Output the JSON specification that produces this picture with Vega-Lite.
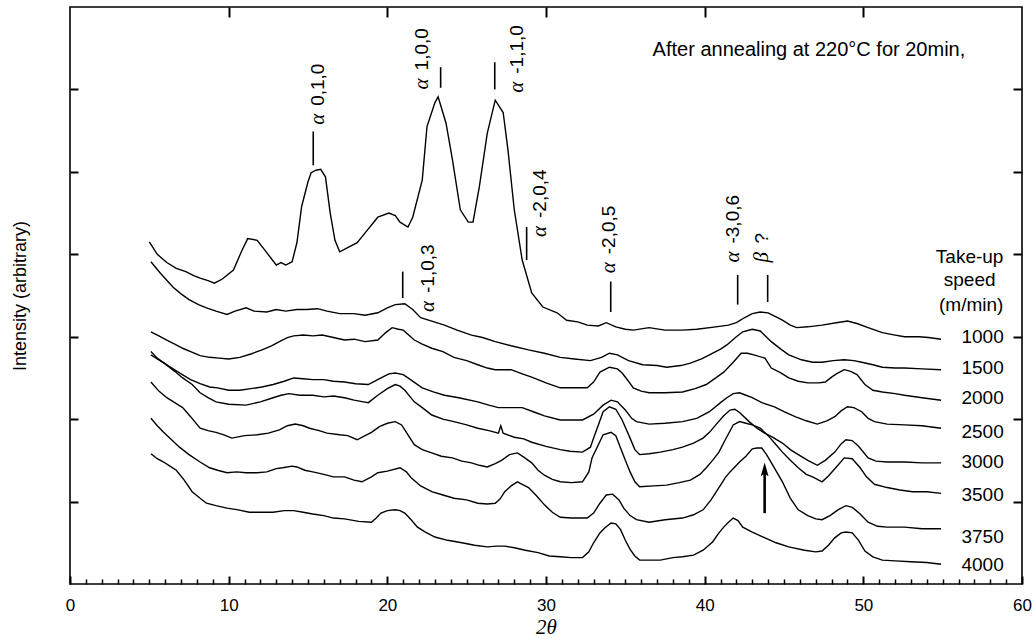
{
  "$schema": "https://vega.github.io/schema/vega-lite/v6.json",
  "width": 952,
  "height": 577,
  "autosize": {"type": "none"},
  "padding": {"left": 70, "top": 7, "right": 14, "bottom": 55},
  "config": {
    "view": {"stroke": "black", "strokeWidth": 1.6},
    "font": "Liberation Sans",
    "axis": {"domain": false, "grid": false, "tickColor": "black", "labelColor": "black", "titleColor": "black"}
  },
  "datasets": {
    "curves": [
      {"s":"1000","t":5.0,"i":4.15},{"s":"1000","t":5.5,"i":4.00},{"s":"1000","t":6.1,"i":3.90},{"s":"1000","t":6.7,"i":3.83},{"s":"1000","t":7.3,"i":3.79},{"s":"1000","t":7.8,"i":3.74},{"s":"1000","t":8.2,"i":3.71},{"s":"1000","t":8.7,"i":3.68},{"s":"1000","t":9.1,"i":3.65},{"s":"1000","t":9.6,"i":3.70},{"s":"1000","t":10.3,"i":3.81},{"s":"1000","t":10.8,"i":4.03},{"s":"1000","t":11.2,"i":4.19},{"s":"1000","t":11.8,"i":4.17},{"s":"1000","t":12.4,"i":4.02},{"s":"1000","t":13.0,"i":3.87},{"s":"1000","t":13.3,"i":3.90},{"s":"1000","t":13.6,"i":3.87},{"s":"1000","t":14.0,"i":3.91},{"s":"1000","t":14.3,"i":4.14},{"s":"1000","t":14.6,"i":4.58},{"s":"1000","t":15.0,"i":4.88},{"s":"1000","t":15.2,"i":4.99},{"s":"1000","t":15.5,"i":5.02},{"s":"1000","t":15.8,"i":5.03},{"s":"1000","t":16.1,"i":4.94},{"s":"1000","t":16.4,"i":4.50},{"s":"1000","t":16.7,"i":4.17},{"s":"1000","t":17.0,"i":4.03},{"s":"1000","t":17.5,"i":4.08},{"s":"1000","t":18.1,"i":4.14},{"s":"1000","t":18.6,"i":4.26},{"s":"1000","t":19.4,"i":4.45},{"s":"1000","t":20.1,"i":4.50},{"s":"1000","t":20.5,"i":4.47},{"s":"1000","t":20.8,"i":4.39},{"s":"1000","t":21.3,"i":4.33},{"s":"1000","t":21.6,"i":4.45},{"s":"1000","t":22.2,"i":4.90},{"s":"1000","t":22.5,"i":5.55},{"s":"1000","t":23.0,"i":5.84},{"s":"1000","t":23.2,"i":5.91},{"s":"1000","t":23.7,"i":5.59},{"s":"1000","t":24.1,"i":5.15},{"s":"1000","t":24.6,"i":4.54},{"s":"1000","t":25.1,"i":4.39},{"s":"1000","t":25.4,"i":4.39},{"s":"1000","t":25.8,"i":4.82},{"s":"1000","t":26.3,"i":5.47},{"s":"1000","t":26.8,"i":5.87},{"s":"1000","t":27.3,"i":5.72},{"s":"1000","t":27.6,"i":5.27},{"s":"1000","t":28.0,"i":4.54},{"s":"1000","t":28.5,"i":3.93},{"s":"1000","t":29.1,"i":3.53},{"s":"1000","t":29.8,"i":3.36},{"s":"1000","t":30.7,"i":3.29},{"s":"1000","t":31.3,"i":3.20},{"s":"1000","t":32.0,"i":3.18},{"s":"1000","t":32.6,"i":3.14},{"s":"1000","t":33.3,"i":3.13},{"s":"1000","t":33.8,"i":3.17},{"s":"1000","t":34.4,"i":3.12},{"s":"1000","t":35.0,"i":3.09},{"s":"1000","t":35.5,"i":3.08},{"s":"1000","t":36.5,"i":3.11},{"s":"1000","t":37.5,"i":3.08},{"s":"1000","t":38.6,"i":3.08},{"s":"1000","t":39.5,"i":3.09},{"s":"1000","t":40.7,"i":3.12},{"s":"1000","t":41.5,"i":3.14},{"s":"1000","t":42.0,"i":3.17},{"s":"1000","t":42.5,"i":3.23},{"s":"1000","t":43.0,"i":3.28},{"s":"1000","t":43.5,"i":3.30},{"s":"1000","t":44.0,"i":3.29},{"s":"1000","t":44.5,"i":3.24},{"s":"1000","t":44.9,"i":3.20},{"s":"1000","t":45.4,"i":3.14},{"s":"1000","t":45.8,"i":3.11},{"s":"1000","t":46.5,"i":3.12},{"s":"1000","t":47.4,"i":3.14},{"s":"1000","t":48.3,"i":3.17},{"s":"1000","t":49.0,"i":3.19},{"s":"1000","t":49.6,"i":3.16},{"s":"1000","t":50.3,"i":3.11},{"s":"1000","t":51.2,"i":3.05},{"s":"1000","t":52.0,"i":3.02},{"s":"1000","t":52.6,"i":3.00},{"s":"1000","t":53.5,"i":3.00},{"s":"1000","t":54.1,"i":2.99},{"s":"1000","t":54.9,"i":2.97},

      {"s":"1500","t":5.1,"i":3.91},{"s":"1500","t":5.7,"i":3.77},{"s":"1500","t":6.5,"i":3.60},{"s":"1500","t":7.0,"i":3.52},{"s":"1500","t":7.5,"i":3.45},{"s":"1500","t":8.1,"i":3.39},{"s":"1500","t":8.6,"i":3.35},{"s":"1500","t":9.2,"i":3.31},{"s":"1500","t":9.9,"i":3.27},{"s":"1500","t":10.4,"i":3.31},{"s":"1500","t":11.1,"i":3.35},{"s":"1500","t":11.6,"i":3.31},{"s":"1500","t":12.4,"i":3.30},{"s":"1500","t":13.0,"i":3.33},{"s":"1500","t":13.6,"i":3.31},{"s":"1500","t":14.3,"i":3.33},{"s":"1500","t":14.9,"i":3.33},{"s":"1500","t":15.6,"i":3.34},{"s":"1500","t":16.2,"i":3.31},{"s":"1500","t":17.0,"i":3.28},{"s":"1500","t":17.9,"i":3.28},{"s":"1500","t":18.6,"i":3.26},{"s":"1500","t":19.4,"i":3.29},{"s":"1500","t":20.0,"i":3.35},{"s":"1500","t":20.5,"i":3.39},{"s":"1500","t":21.1,"i":3.40},{"s":"1500","t":21.6,"i":3.33},{"s":"1500","t":22.1,"i":3.23},{"s":"1500","t":22.8,"i":3.19},{"s":"1500","t":23.6,"i":3.14},{"s":"1500","t":24.4,"i":3.08},{"s":"1500","t":25.3,"i":3.02},{"s":"1500","t":26.0,"i":2.99},{"s":"1500","t":26.8,"i":2.94},{"s":"1500","t":27.8,"i":2.89},{"s":"1500","t":28.9,"i":2.84},{"s":"1500","t":29.9,"i":2.80},{"s":"1500","t":30.9,"i":2.75},{"s":"1500","t":31.8,"i":2.73},{"s":"1500","t":32.8,"i":2.71},{"s":"1500","t":33.5,"i":2.75},{"s":"1500","t":34.0,"i":2.80},{"s":"1500","t":34.5,"i":2.78},{"s":"1500","t":35.2,"i":2.71},{"s":"1500","t":36.1,"i":2.66},{"s":"1500","t":37.0,"i":2.65},{"s":"1500","t":37.6,"i":2.63},{"s":"1500","t":38.5,"i":2.65},{"s":"1500","t":39.1,"i":2.68},{"s":"1500","t":39.8,"i":2.73},{"s":"1500","t":40.3,"i":2.78},{"s":"1500","t":41.0,"i":2.85},{"s":"1500","t":41.4,"i":2.90},{"s":"1500","t":42.0,"i":3.00},{"s":"1500","t":42.4,"i":3.06},{"s":"1500","t":43.0,"i":3.09},{"s":"1500","t":43.5,"i":3.07},{"s":"1500","t":44.2,"i":2.94},{"s":"1500","t":44.8,"i":2.85},{"s":"1500","t":45.3,"i":2.78},{"s":"1500","t":46.1,"i":2.72},{"s":"1500","t":46.8,"i":2.69},{"s":"1500","t":47.4,"i":2.69},{"s":"1500","t":48.1,"i":2.71},{"s":"1500","t":48.8,"i":2.72},{"s":"1500","t":49.4,"i":2.71},{"s":"1500","t":49.9,"i":2.69},{"s":"1500","t":50.6,"i":2.66},{"s":"1500","t":51.2,"i":2.63},{"s":"1500","t":52.0,"i":2.62},{"s":"1500","t":52.6,"i":2.62},{"s":"1500","t":53.7,"i":2.61},{"s":"1500","t":54.9,"i":2.60},

      {"s":"2000","t":5.1,"i":3.06},{"s":"2000","t":5.6,"i":3.01},{"s":"2000","t":6.1,"i":2.96},{"s":"2000","t":6.6,"i":2.91},{"s":"2000","t":7.1,"i":2.86},{"s":"2000","t":7.6,"i":2.82},{"s":"2000","t":8.2,"i":2.77},{"s":"2000","t":8.8,"i":2.75},{"s":"2000","t":9.4,"i":2.74},{"s":"2000","t":10.0,"i":2.73},{"s":"2000","t":10.7,"i":2.75},{"s":"2000","t":11.4,"i":2.79},{"s":"2000","t":12.1,"i":2.84},{"s":"2000","t":12.7,"i":2.89},{"s":"2000","t":13.2,"i":2.94},{"s":"2000","t":13.7,"i":2.99},{"s":"2000","t":14.1,"i":3.01},{"s":"2000","t":14.7,"i":3.02},{"s":"2000","t":15.3,"i":3.01},{"s":"2000","t":15.9,"i":3.02},{"s":"2000","t":16.6,"i":2.99},{"s":"2000","t":17.3,"i":2.96},{"s":"2000","t":17.9,"i":2.97},{"s":"2000","t":18.6,"i":2.94},{"s":"2000","t":19.4,"i":2.96},{"s":"2000","t":19.9,"i":3.05},{"s":"2000","t":20.3,"i":3.11},{"s":"2000","t":20.7,"i":3.09},{"s":"2000","t":21.0,"i":3.08},{"s":"2000","t":21.7,"i":2.96},{"s":"2000","t":22.2,"i":2.91},{"s":"2000","t":22.8,"i":2.86},{"s":"2000","t":23.5,"i":2.82},{"s":"2000","t":24.2,"i":2.75},{"s":"2000","t":25.0,"i":2.71},{"s":"2000","t":25.7,"i":2.66},{"s":"2000","t":26.3,"i":2.62},{"s":"2000","t":26.8,"i":2.60},{"s":"2000","t":27.8,"i":2.60},{"s":"2000","t":28.5,"i":2.55},{"s":"2000","t":29.1,"i":2.51},{"s":"2000","t":30.0,"i":2.44},{"s":"2000","t":30.9,"i":2.38},{"s":"2000","t":31.5,"i":2.38},{"s":"2000","t":32.6,"i":2.38},{"s":"2000","t":33.0,"i":2.45},{"s":"2000","t":33.4,"i":2.57},{"s":"2000","t":34.0,"i":2.63},{"s":"2000","t":34.5,"i":2.61},{"s":"2000","t":34.8,"i":2.56},{"s":"2000","t":35.2,"i":2.46},{"s":"2000","t":35.5,"i":2.38},{"s":"2000","t":36.0,"i":2.34},{"s":"2000","t":36.5,"i":2.32},{"s":"2000","t":37.5,"i":2.32},{"s":"2000","t":38.6,"i":2.33},{"s":"2000","t":39.4,"i":2.37},{"s":"2000","t":40.1,"i":2.42},{"s":"2000","t":40.7,"i":2.50},{"s":"2000","t":41.2,"i":2.57},{"s":"2000","t":41.8,"i":2.69},{"s":"2000","t":42.3,"i":2.80},{"s":"2000","t":42.7,"i":2.80},{"s":"2000","t":43.1,"i":2.78},{"s":"2000","t":43.8,"i":2.74},{"s":"2000","t":44.2,"i":2.62},{"s":"2000","t":44.8,"i":2.56},{"s":"2000","t":45.3,"i":2.50},{"s":"2000","t":45.9,"i":2.46},{"s":"2000","t":46.5,"i":2.44},{"s":"2000","t":47.2,"i":2.44},{"s":"2000","t":47.6,"i":2.45},{"s":"2000","t":48.0,"i":2.51},{"s":"2000","t":48.3,"i":2.55},{"s":"2000","t":48.8,"i":2.60},{"s":"2000","t":49.2,"i":2.58},{"s":"2000","t":49.6,"i":2.54},{"s":"2000","t":50.1,"i":2.42},{"s":"2000","t":50.6,"i":2.35},{"s":"2000","t":51.2,"i":2.33},{"s":"2000","t":52.0,"i":2.31},{"s":"2000","t":52.6,"i":2.29},{"s":"2000","t":53.7,"i":2.26},{"s":"2000","t":54.9,"i":2.23},

      {"s":"2500","t":5.1,"i":2.78},{"s":"2500","t":5.5,"i":2.73},{"s":"2500","t":6.0,"i":2.67},{"s":"2500","t":6.5,"i":2.61},{"s":"2500","t":7.0,"i":2.55},{"s":"2500","t":7.6,"i":2.48},{"s":"2500","t":8.2,"i":2.43},{"s":"2500","t":8.8,"i":2.39},{"s":"2500","t":9.3,"i":2.38},{"s":"2500","t":10.0,"i":2.35},{"s":"2500","t":10.7,"i":2.35},{"s":"2500","t":11.4,"i":2.37},{"s":"2500","t":12.1,"i":2.39},{"s":"2500","t":12.8,"i":2.42},{"s":"2500","t":13.5,"i":2.46},{"s":"2500","t":14.1,"i":2.50},{"s":"2500","t":14.7,"i":2.49},{"s":"2500","t":15.3,"i":2.48},{"s":"2500","t":16.0,"i":2.48},{"s":"2500","t":16.6,"i":2.46},{"s":"2500","t":17.3,"i":2.45},{"s":"2500","t":18.0,"i":2.43},{"s":"2500","t":18.8,"i":2.42},{"s":"2500","t":19.6,"i":2.50},{"s":"2500","t":20.1,"i":2.55},{"s":"2500","t":20.5,"i":2.56},{"s":"2500","t":21.0,"i":2.54},{"s":"2500","t":21.3,"i":2.50},{"s":"2500","t":22.2,"i":2.38},{"s":"2500","t":22.9,"i":2.33},{"s":"2500","t":23.6,"i":2.29},{"s":"2500","t":24.5,"i":2.26},{"s":"2500","t":25.7,"i":2.21},{"s":"2500","t":26.4,"i":2.17},{"s":"2500","t":27.0,"i":2.14},{"s":"2500","t":27.8,"i":2.14},{"s":"2500","t":28.5,"i":2.14},{"s":"2500","t":29.2,"i":2.09},{"s":"2500","t":29.9,"i":2.04},{"s":"2500","t":30.9,"i":1.99},{"s":"2500","t":31.5,"i":1.99},{"s":"2500","t":32.3,"i":1.99},{"s":"2500","t":33.0,"i":2.06},{"s":"2500","t":33.6,"i":2.17},{"s":"2500","t":34.1,"i":2.23},{"s":"2500","t":34.5,"i":2.21},{"s":"2500","t":35.0,"i":2.11},{"s":"2500","t":35.4,"i":2.01},{"s":"2500","t":35.7,"i":1.97},{"s":"2500","t":36.5,"i":1.94},{"s":"2500","t":37.5,"i":1.95},{"s":"2500","t":38.6,"i":1.97},{"s":"2500","t":39.5,"i":2.01},{"s":"2500","t":40.3,"i":2.09},{"s":"2500","t":41.0,"i":2.20},{"s":"2500","t":41.4,"i":2.26},{"s":"2500","t":41.8,"i":2.31},{"s":"2500","t":42.2,"i":2.32},{"s":"2500","t":42.6,"i":2.29},{"s":"2500","t":43.0,"i":2.26},{"s":"2500","t":43.6,"i":2.20},{"s":"2500","t":44.4,"i":2.15},{"s":"2500","t":45.0,"i":2.09},{"s":"2500","t":45.7,"i":2.03},{"s":"2500","t":46.4,"i":1.98},{"s":"2500","t":47.1,"i":1.94},{"s":"2500","t":47.7,"i":1.98},{"s":"2500","t":48.2,"i":2.03},{"s":"2500","t":48.6,"i":2.10},{"s":"2500","t":49.0,"i":2.15},{"s":"2500","t":49.4,"i":2.14},{"s":"2500","t":49.9,"i":2.09},{"s":"2500","t":50.3,"i":2.01},{"s":"2500","t":50.7,"i":1.97},{"s":"2500","t":51.5,"i":1.94},{"s":"2500","t":52.6,"i":1.93},{"s":"2500","t":53.7,"i":1.92},{"s":"2500","t":54.9,"i":1.89},

      {"s":"3000","t":5.1,"i":2.82},{"s":"3000","t":5.5,"i":2.74},{"s":"3000","t":6.0,"i":2.67},{"s":"3000","t":6.6,"i":2.58},{"s":"3000","t":7.1,"i":2.50},{"s":"3000","t":7.7,"i":2.42},{"s":"3000","t":8.2,"i":2.32},{"s":"3000","t":8.7,"i":2.26},{"s":"3000","t":9.2,"i":2.21},{"s":"3000","t":10.0,"i":2.18},{"s":"3000","t":11.1,"i":2.17},{"s":"3000","t":12.0,"i":2.21},{"s":"3000","t":12.8,"i":2.26},{"s":"3000","t":13.3,"i":2.29},{"s":"3000","t":13.8,"i":2.31},{"s":"3000","t":14.5,"i":2.29},{"s":"3000","t":15.3,"i":2.29},{"s":"3000","t":16.0,"i":2.27},{"s":"3000","t":16.6,"i":2.28},{"s":"3000","t":17.3,"i":2.26},{"s":"3000","t":17.9,"i":2.23},{"s":"3000","t":18.5,"i":2.21},{"s":"3000","t":18.8,"i":2.20},{"s":"3000","t":19.4,"i":2.29},{"s":"3000","t":20.0,"i":2.37},{"s":"3000","t":20.5,"i":2.42},{"s":"3000","t":20.8,"i":2.40},{"s":"3000","t":21.1,"i":2.35},{"s":"3000","t":21.7,"i":2.21},{"s":"3000","t":22.2,"i":2.14},{"s":"3000","t":22.8,"i":2.05},{"s":"3000","t":23.5,"i":2.00},{"s":"3000","t":24.2,"i":1.97},{"s":"3000","t":25.0,"i":1.93},{"s":"3000","t":25.7,"i":1.89},{"s":"3000","t":26.4,"i":1.86},{"s":"3000","t":27.0,"i":1.83},{"s":"3000","t":27.15,"i":1.92},{"s":"3000","t":27.3,"i":1.83},{"s":"3000","t":28.0,"i":1.78},{"s":"3000","t":28.6,"i":1.76},{"s":"3000","t":29.1,"i":1.72},{"s":"3000","t":30.0,"i":1.67},{"s":"3000","t":30.9,"i":1.63},{"s":"3000","t":31.5,"i":1.61},{"s":"3000","t":32.3,"i":1.60},{"s":"3000","t":32.8,"i":1.66},{"s":"3000","t":33.0,"i":1.77},{"s":"3000","t":33.3,"i":1.93},{"s":"3000","t":33.6,"i":2.09},{"s":"3000","t":34.0,"i":2.15},{"s":"3000","t":34.4,"i":2.12},{"s":"3000","t":34.8,"i":1.99},{"s":"3000","t":35.3,"i":1.77},{"s":"3000","t":35.6,"i":1.63},{"s":"3000","t":35.9,"i":1.57},{"s":"3000","t":36.5,"i":1.58},{"s":"3000","t":37.2,"i":1.60},{"s":"3000","t":38.0,"i":1.63},{"s":"3000","t":38.6,"i":1.66},{"s":"3000","t":39.3,"i":1.71},{"s":"3000","t":39.9,"i":1.77},{"s":"3000","t":40.3,"i":1.84},{"s":"3000","t":40.7,"i":1.93},{"s":"3000","t":41.2,"i":2.04},{"s":"3000","t":41.6,"i":2.11},{"s":"3000","t":41.9,"i":2.12},{"s":"3000","t":42.2,"i":2.08},{"s":"3000","t":42.8,"i":1.97},{"s":"3000","t":43.3,"i":1.89},{"s":"3000","t":43.7,"i":1.84},{"s":"3000","t":44.3,"i":1.78},{"s":"3000","t":44.9,"i":1.71},{"s":"3000","t":45.4,"i":1.63},{"s":"3000","t":45.9,"i":1.57},{"s":"3000","t":46.5,"i":1.50},{"s":"3000","t":47.1,"i":1.44},{"s":"3000","t":47.6,"i":1.50},{"s":"3000","t":48.2,"i":1.60},{"s":"3000","t":48.6,"i":1.70},{"s":"3000","t":48.9,"i":1.75},{"s":"3000","t":49.3,"i":1.74},{"s":"3000","t":49.7,"i":1.67},{"s":"3000","t":50.3,"i":1.53},{"s":"3000","t":50.8,"i":1.49},{"s":"3000","t":51.5,"i":1.48},{"s":"3000","t":52.6,"i":1.48},{"s":"3000","t":53.7,"i":1.47},{"s":"3000","t":54.9,"i":1.47},

      {"s":"3500","t":5.1,"i":2.45},{"s":"3500","t":5.6,"i":2.34},{"s":"3500","t":6.1,"i":2.26},{"s":"3500","t":6.6,"i":2.20},{"s":"3500","t":7.1,"i":2.14},{"s":"3500","t":7.6,"i":2.03},{"s":"3500","t":8.2,"i":1.89},{"s":"3500","t":8.7,"i":1.86},{"s":"3500","t":9.2,"i":1.84},{"s":"3500","t":9.7,"i":1.81},{"s":"3500","t":10.2,"i":1.77},{"s":"3500","t":11.0,"i":1.80},{"s":"3500","t":11.8,"i":1.81},{"s":"3500","t":12.5,"i":1.83},{"s":"3500","t":13.2,"i":1.87},{"s":"3500","t":13.7,"i":1.92},{"s":"3500","t":14.2,"i":1.94},{"s":"3500","t":14.7,"i":1.92},{"s":"3500","t":15.1,"i":1.89},{"s":"3500","t":15.7,"i":1.86},{"s":"3500","t":16.2,"i":1.83},{"s":"3500","t":17.0,"i":1.81},{"s":"3500","t":17.5,"i":1.80},{"s":"3500","t":18.1,"i":1.75},{"s":"3500","t":18.6,"i":1.80},{"s":"3500","t":19.0,"i":1.84},{"s":"3500","t":19.5,"i":1.91},{"s":"3500","t":20.0,"i":1.95},{"s":"3500","t":20.5,"i":1.97},{"s":"3500","t":20.9,"i":1.93},{"s":"3500","t":21.2,"i":1.84},{"s":"3500","t":21.7,"i":1.69},{"s":"3500","t":22.2,"i":1.63},{"s":"3500","t":22.8,"i":1.59},{"s":"3500","t":23.4,"i":1.55},{"s":"3500","t":24.1,"i":1.53},{"s":"3500","t":24.7,"i":1.49},{"s":"3500","t":25.3,"i":1.47},{"s":"3500","t":25.8,"i":1.44},{"s":"3500","t":26.3,"i":1.42},{"s":"3500","t":26.8,"i":1.46},{"s":"3500","t":27.2,"i":1.50},{"s":"3500","t":27.7,"i":1.57},{"s":"3500","t":28.2,"i":1.59},{"s":"3500","t":28.6,"i":1.54},{"s":"3500","t":29.1,"i":1.47},{"s":"3500","t":29.5,"i":1.38},{"s":"3500","t":29.9,"i":1.32},{"s":"3500","t":30.4,"i":1.27},{"s":"3500","t":30.9,"i":1.24},{"s":"3500","t":31.6,"i":1.23},{"s":"3500","t":32.3,"i":1.24},{"s":"3500","t":32.7,"i":1.36},{"s":"3500","t":32.9,"i":1.53},{"s":"3500","t":33.3,"i":1.69},{"s":"3500","t":33.6,"i":1.81},{"s":"3500","t":34.1,"i":1.84},{"s":"3500","t":34.4,"i":1.80},{"s":"3500","t":34.7,"i":1.65},{"s":"3500","t":35.0,"i":1.50},{"s":"3500","t":35.3,"i":1.36},{"s":"3500","t":35.6,"i":1.24},{"s":"3500","t":35.9,"i":1.18},{"s":"3500","t":36.8,"i":1.19},{"s":"3500","t":37.6,"i":1.20},{"s":"3500","t":38.4,"i":1.23},{"s":"3500","t":39.1,"i":1.26},{"s":"3500","t":39.7,"i":1.33},{"s":"3500","t":40.1,"i":1.41},{"s":"3500","t":40.5,"i":1.50},{"s":"3500","t":40.9,"i":1.60},{"s":"3500","t":41.3,"i":1.75},{"s":"3500","t":41.8,"i":1.93},{"s":"3500","t":42.2,"i":1.97},{"s":"3500","t":42.6,"i":1.95},{"s":"3500","t":43.0,"i":1.93},{"s":"3500","t":43.5,"i":1.89},{"s":"3500","t":44.0,"i":1.80},{"s":"3500","t":44.5,"i":1.69},{"s":"3500","t":44.9,"i":1.60},{"s":"3500","t":45.4,"i":1.50},{"s":"3500","t":45.9,"i":1.41},{"s":"3500","t":46.4,"i":1.33},{"s":"3500","t":46.8,"i":1.30},{"s":"3500","t":47.4,"i":1.24},{"s":"3500","t":47.8,"i":1.31},{"s":"3500","t":48.3,"i":1.42},{"s":"3500","t":48.8,"i":1.53},{"s":"3500","t":49.3,"i":1.52},{"s":"3500","t":49.8,"i":1.41},{"s":"3500","t":50.2,"i":1.30},{"s":"3500","t":50.7,"i":1.21},{"s":"3500","t":51.5,"i":1.17},{"s":"3500","t":52.3,"i":1.14},{"s":"3500","t":53.1,"i":1.12},{"s":"3500","t":54.0,"i":1.12},{"s":"3500","t":54.9,"i":1.10},

      {"s":"3750","t":5.1,"i":2.01},{"s":"3750","t":5.5,"i":1.92},{"s":"3750","t":5.9,"i":1.84},{"s":"3750","t":6.4,"i":1.75},{"s":"3750","t":6.9,"i":1.66},{"s":"3750","t":7.5,"i":1.57},{"s":"3750","t":8.2,"i":1.48},{"s":"3750","t":8.8,"i":1.41},{"s":"3750","t":9.3,"i":1.38},{"s":"3750","t":9.9,"i":1.35},{"s":"3750","t":10.5,"i":1.36},{"s":"3750","t":11.1,"i":1.35},{"s":"3750","t":11.8,"i":1.35},{"s":"3750","t":12.4,"i":1.36},{"s":"3750","t":13.0,"i":1.40},{"s":"3750","t":13.4,"i":1.41},{"s":"3750","t":14.0,"i":1.43},{"s":"3750","t":14.3,"i":1.42},{"s":"3750","t":14.8,"i":1.38},{"s":"3750","t":15.3,"i":1.36},{"s":"3750","t":16.0,"i":1.33},{"s":"3750","t":16.6,"i":1.30},{"s":"3750","t":17.3,"i":1.30},{"s":"3750","t":17.9,"i":1.26},{"s":"3750","t":18.4,"i":1.24},{"s":"3750","t":19.0,"i":1.30},{"s":"3750","t":19.4,"i":1.35},{"s":"3750","t":20.0,"i":1.37},{"s":"3750","t":20.8,"i":1.41},{"s":"3750","t":21.2,"i":1.36},{"s":"3750","t":21.5,"i":1.29},{"s":"3750","t":22.1,"i":1.19},{"s":"3750","t":22.8,"i":1.12},{"s":"3750","t":23.5,"i":1.08},{"s":"3750","t":24.2,"i":1.04},{"s":"3750","t":25.0,"i":1.02},{"s":"3750","t":25.7,"i":0.98},{"s":"3750","t":26.3,"i":0.97},{"s":"3750","t":26.8,"i":0.98},{"s":"3750","t":27.1,"i":1.03},{"s":"3750","t":27.4,"i":1.12},{"s":"3750","t":27.8,"i":1.19},{"s":"3750","t":28.2,"i":1.24},{"s":"3750","t":28.5,"i":1.21},{"s":"3750","t":28.9,"i":1.17},{"s":"3750","t":29.4,"i":1.07},{"s":"3750","t":29.9,"i":0.96},{"s":"3750","t":30.4,"i":0.87},{"s":"3750","t":30.9,"i":0.81},{"s":"3750","t":31.6,"i":0.80},{"s":"3750","t":32.6,"i":0.80},{"s":"3750","t":33.0,"i":0.86},{"s":"3750","t":33.4,"i":0.98},{"s":"3750","t":33.8,"i":1.08},{"s":"3750","t":34.2,"i":1.09},{"s":"3750","t":34.6,"i":1.02},{"s":"3750","t":34.9,"i":0.92},{"s":"3750","t":35.3,"i":0.83},{"s":"3750","t":35.7,"i":0.78},{"s":"3750","t":36.5,"i":0.75},{"s":"3750","t":37.5,"i":0.78},{"s":"3750","t":38.6,"i":0.80},{"s":"3750","t":39.3,"i":0.84},{"s":"3750","t":39.9,"i":0.90},{"s":"3750","t":40.4,"i":1.02},{"s":"3750","t":40.9,"i":1.17},{"s":"3750","t":41.3,"i":1.29},{"s":"3750","t":41.6,"i":1.36},{"s":"3750","t":42.2,"i":1.48},{"s":"3750","t":42.6,"i":1.55},{"s":"3750","t":43.0,"i":1.64},{"s":"3750","t":43.3,"i":1.65},{"s":"3750","t":43.6,"i":1.65},{"s":"3750","t":43.9,"i":1.57},{"s":"3750","t":44.3,"i":1.44},{"s":"3750","t":44.9,"i":1.24},{"s":"3750","t":45.4,"i":1.04},{"s":"3750","t":45.9,"i":0.90},{"s":"3750","t":46.5,"i":0.83},{"s":"3750","t":47.0,"i":0.79},{"s":"3750","t":47.4,"i":0.78},{"s":"3750","t":47.9,"i":0.83},{"s":"3750","t":48.4,"i":0.90},{"s":"3750","t":48.9,"i":0.95},{"s":"3750","t":49.3,"i":0.93},{"s":"3750","t":49.8,"i":0.85},{"s":"3750","t":50.3,"i":0.75},{"s":"3750","t":50.9,"i":0.70},{"s":"3750","t":51.5,"i":0.69},{"s":"3750","t":52.6,"i":0.69},{"s":"3750","t":53.7,"i":0.67},{"s":"3750","t":54.9,"i":0.67},

      {"s":"4000","t":5.1,"i":1.58},{"s":"4000","t":5.5,"i":1.52},{"s":"4000","t":5.9,"i":1.48},{"s":"4000","t":6.3,"i":1.43},{"s":"4000","t":6.7,"i":1.38},{"s":"4000","t":7.2,"i":1.26},{"s":"4000","t":7.7,"i":1.12},{"s":"4000","t":8.2,"i":1.04},{"s":"4000","t":8.6,"i":0.98},{"s":"4000","t":9.2,"i":0.95},{"s":"4000","t":9.9,"i":0.92},{"s":"4000","t":10.6,"i":0.90},{"s":"4000","t":11.3,"i":0.87},{"s":"4000","t":12.0,"i":0.87},{"s":"4000","t":12.8,"i":0.87},{"s":"4000","t":13.5,"i":0.89},{"s":"4000","t":14.1,"i":0.89},{"s":"4000","t":14.7,"i":0.87},{"s":"4000","t":15.3,"i":0.85},{"s":"4000","t":16.0,"i":0.83},{"s":"4000","t":16.6,"i":0.80},{"s":"4000","t":17.3,"i":0.79},{"s":"4000","t":18.2,"i":0.76},{"s":"4000","t":19.0,"i":0.75},{"s":"4000","t":19.3,"i":0.80},{"s":"4000","t":19.6,"i":0.86},{"s":"4000","t":20.0,"i":0.89},{"s":"4000","t":20.5,"i":0.90},{"s":"4000","t":20.8,"i":0.89},{"s":"4000","t":21.1,"i":0.86},{"s":"4000","t":21.5,"i":0.78},{"s":"4000","t":21.9,"i":0.69},{"s":"4000","t":22.4,"i":0.63},{"s":"4000","t":23.0,"i":0.57},{"s":"4000","t":23.8,"i":0.53},{"s":"4000","t":24.7,"i":0.50},{"s":"4000","t":25.5,"i":0.47},{"s":"4000","t":26.3,"i":0.45},{"s":"4000","t":26.9,"i":0.46},{"s":"4000","t":27.4,"i":0.46},{"s":"4000","t":28.0,"i":0.44},{"s":"4000","t":28.7,"i":0.41},{"s":"4000","t":29.5,"i":0.38},{"s":"4000","t":30.2,"i":0.34},{"s":"4000","t":30.9,"i":0.33},{"s":"4000","t":31.6,"i":0.32},{"s":"4000","t":32.3,"i":0.32},{"s":"4000","t":32.7,"i":0.39},{"s":"4000","t":33.0,"i":0.50},{"s":"4000","t":33.4,"i":0.62},{"s":"4000","t":33.7,"i":0.68},{"s":"4000","t":34.1,"i":0.74},{"s":"4000","t":34.4,"i":0.73},{"s":"4000","t":34.7,"i":0.66},{"s":"4000","t":35.0,"i":0.53},{"s":"4000","t":35.3,"i":0.42},{"s":"4000","t":35.6,"i":0.34},{"s":"4000","t":35.9,"i":0.29},{"s":"4000","t":36.5,"i":0.29},{"s":"4000","t":37.2,"i":0.29},{"s":"4000","t":38.0,"i":0.32},{"s":"4000","t":38.6,"i":0.33},{"s":"4000","t":39.3,"i":0.35},{"s":"4000","t":39.9,"i":0.41},{"s":"4000","t":40.5,"i":0.51},{"s":"4000","t":40.9,"i":0.62},{"s":"4000","t":41.2,"i":0.69},{"s":"4000","t":41.5,"i":0.75},{"s":"4000","t":41.8,"i":0.80},{"s":"4000","t":42.1,"i":0.77},{"s":"4000","t":42.4,"i":0.69},{"s":"4000","t":43.0,"i":0.63},{"s":"4000","t":43.8,"i":0.56},{"s":"4000","t":44.5,"i":0.50},{"s":"4000","t":45.3,"i":0.45},{"s":"4000","t":46.3,"i":0.41},{"s":"4000","t":47.0,"i":0.39},{"s":"4000","t":47.4,"i":0.40},{"s":"4000","t":47.8,"i":0.47},{"s":"4000","t":48.2,"i":0.56},{"s":"4000","t":48.6,"i":0.62},{"s":"4000","t":48.9,"i":0.63},{"s":"4000","t":49.3,"i":0.62},{"s":"4000","t":49.7,"i":0.53},{"s":"4000","t":50.1,"i":0.40},{"s":"4000","t":50.6,"i":0.33},{"s":"4000","t":51.2,"i":0.29},{"s":"4000","t":52.0,"i":0.28},{"s":"4000","t":53.0,"i":0.27},{"s":"4000","t":54.0,"i":0.26},{"s":"4000","t":54.9,"i":0.24}
    ],
    "peaks": [
      {"t":15.6,"i":5.57,"g":"α","r":"0,1,0","m":15.33,"m1":5.08,"m2":5.49},
      {"t":22.16,"i":6.0,"g":"α","r":"1,0,0","m":23.36,"m1":6.02,"m2":6.27},
      {"t":28.15,"i":5.96,"g":"α","r":"-1,1,0","m":26.77,"m1":6.0,"m2":6.33},
      {"t":29.6,"i":4.21,"g":"α","r":"-2,0,4","m":28.78,"m1":3.93,"m2":4.33},
      {"t":22.55,"i":3.30,"g":"α","r":"-1,0,3","m":20.97,"m1":3.47,"m2":3.79},
      {"t":34.0,"i":3.77,"g":"α","r":"-2,0,5","m":34.08,"m1":3.30,"m2":3.67},
      {"t":41.76,"i":3.90,"g":"α","r":"-3,0,6","m":42.08,"m1":3.39,"m2":3.75},
      {"t":43.6,"i":3.90,"g":"β","r":"?","m":43.97,"m1":3.42,"m2":3.75}
    ],
    "speeds": [
      {"t":58.85,"i":3.00,"label":"1000"},
      {"t":58.85,"i":2.62,"label":"1500"},
      {"t":58.85,"i":2.26,"label":"2000"},
      {"t":58.85,"i":1.84,"label":"2500"},
      {"t":58.85,"i":1.48,"label":"3000"},
      {"t":58.85,"i":1.08,"label":"3500"},
      {"t":58.85,"i":0.57,"label":"3750"},
      {"t":58.85,"i":0.23,"label":"4000"}
    ],
    "heading": [
      {"t":56.7,"i":3.97,"label":"Take-up"},
      {"t":56.7,"i":3.69,"label":"speed"},
      {"t":56.8,"i":3.39,"label":"(m/min)"}
    ],
    "note": [{"t":36.72,"i":6.48,"label":"After annealing at 220°C for 20min,"}],
    "arrow": [{"t":43.78,"i":0.86,"i2":1.37}]
  },
  "resolve": {"axis": {"x": "independent", "y": "independent"}},
  "layer": [
    {
      "data": {"name": "curves"},
      "mark": {"type": "line", "color": "black", "strokeWidth": 1.4},
      "encoding": {
        "x": {"field": "t", "type": "quantitative", "scale": {"domain": [0, 60], "nice": false, "zero": false},
              "axis": {"orient": "bottom", "values": [0, 10, 20, 30, 40, 50, 60], "tickSize": -8, "tickWidth": 2,
                       "labelFontSize": 17, "labelPadding": 21, "labelFont": "Liberation Sans", "labelFlush": false,
                       "title": "2θ", "titleFont": "Liberation Serif", "titleFontStyle": "italic", "titleFontWeight": "normal", "titleFontSize": 21, "titlePadding": 3}},
        "y": {"field": "i", "type": "quantitative", "scale": {"domain": [0, 7], "nice": false, "zero": false},
              "axis": {"orient": "left", "values": [1, 2, 3, 4, 5, 6], "tickSize": -8, "tickWidth": 2, "labels": false,
                       "title": "Intensity (arbitrary)", "titleFont": "Liberation Sans", "titleFontWeight": "normal", "titleFontSize": 18, "titlePadding": 40}},
        "detail": {"field": "s", "type": "nominal"}
      }
    },
    {
      "data": {"name": "peaks"},
      "mark": {"type": "rule", "color": "black", "strokeWidth": 1.6},
      "encoding": {
        "x": {"field": "m", "type": "quantitative", "scale": {"domain": [0, 60], "nice": false, "zero": false},
              "axis": {"orient": "bottom", "values": [1,2,3,4,5,6,7,8,9,11,12,13,14,15,16,17,18,19,21,22,23,24,25,26,27,28,29,31,32,33,34,35,36,37,38,39,41,42,43,44,45,46,47,48,49,51,52,53,54,55,56,57,58,59],
                       "tickSize": -5, "tickWidth": 1.5, "labels": false, "title": null}},
        "y": {"field": "m1", "type": "quantitative", "scale": {"domain": [0, 7], "nice": false, "zero": false}, "axis": null},
        "y2": {"field": "m2"}
      }
    },
    {
      "data": {"name": "peaks"},
      "mark": {"type": "text", "angle": 270, "align": "left", "baseline": "middle", "font": "Liberation Serif", "fontStyle": "italic", "fontSize": 21, "color": "black"},
      "encoding": {
        "x": {"field": "t", "type": "quantitative", "scale": {"domain": [0, 60], "nice": false, "zero": false}, "axis": null},
        "y": {"field": "i", "type": "quantitative", "scale": {"domain": [0, 7], "nice": false, "zero": false}, "axis": null},
        "text": {"field": "g"}
      }
    },
    {
      "data": {"name": "peaks"},
      "mark": {"type": "text", "angle": 270, "align": "left", "baseline": "middle", "dx": 19, "font": "Liberation Sans", "fontSize": 19, "color": "black"},
      "encoding": {
        "x": {"field": "t", "type": "quantitative", "scale": {"domain": [0, 60], "nice": false, "zero": false}, "axis": null},
        "y": {"field": "i", "type": "quantitative", "scale": {"domain": [0, 7], "nice": false, "zero": false}, "axis": null},
        "text": {"field": "r"}
      }
    },
    {
      "data": {"name": "speeds"},
      "mark": {"type": "text", "align": "right", "baseline": "middle", "font": "Liberation Sans", "fontSize": 19, "color": "black"},
      "encoding": {
        "x": {"field": "t", "type": "quantitative", "scale": {"domain": [0, 60], "nice": false, "zero": false},
              "axis": {"orient": "top", "values": [10, 20, 30, 40, 50], "tickSize": -10, "tickWidth": 2, "labels": false, "title": null}},
        "y": {"field": "i", "type": "quantitative", "scale": {"domain": [0, 7], "nice": false, "zero": false},
              "axis": {"orient": "right", "values": [1, 2, 3, 4, 5, 6], "tickSize": -9, "tickWidth": 2, "labels": false, "title": null}},
        "text": {"field": "label"}
      }
    },
    {
      "data": {"name": "heading"},
      "mark": {"type": "text", "align": "center", "baseline": "middle", "font": "Liberation Sans", "fontSize": 19, "color": "black"},
      "encoding": {
        "x": {"field": "t", "type": "quantitative", "scale": {"domain": [0, 60], "nice": false, "zero": false}, "axis": null},
        "y": {"field": "i", "type": "quantitative", "scale": {"domain": [0, 7], "nice": false, "zero": false}, "axis": null},
        "text": {"field": "label"}
      }
    },
    {
      "data": {"name": "note"},
      "mark": {"type": "text", "align": "left", "baseline": "middle", "font": "Liberation Sans", "fontSize": 20, "color": "black"},
      "encoding": {
        "x": {"field": "t", "type": "quantitative", "scale": {"domain": [0, 60], "nice": false, "zero": false}, "axis": null},
        "y": {"field": "i", "type": "quantitative", "scale": {"domain": [0, 7], "nice": false, "zero": false}, "axis": null},
        "text": {"field": "label"}
      }
    },
    {
      "data": {"name": "arrow"},
      "mark": {"type": "rule", "color": "black", "strokeWidth": 2.6},
      "encoding": {
        "x": {"field": "t", "type": "quantitative", "scale": {"domain": [0, 60], "nice": false, "zero": false}, "axis": null},
        "y": {"field": "i", "type": "quantitative", "scale": {"domain": [0, 7], "nice": false, "zero": false}, "axis": null},
        "y2": {"field": "i2"}
      }
    },
    {
      "data": {"name": "arrow"},
      "mark": {"type": "point", "shape": "M0,-1L0.45,0.6L0,0.3L-0.45,0.6Z", "size": 300, "filled": true, "color": "black", "opacity": 1},
      "encoding": {
        "x": {"field": "t", "type": "quantitative", "scale": {"domain": [0, 60], "nice": false, "zero": false}, "axis": null},
        "y": {"field": "i2", "type": "quantitative", "scale": {"domain": [0, 7], "nice": false, "zero": false}, "axis": null}
      }
    }
  ]
}
